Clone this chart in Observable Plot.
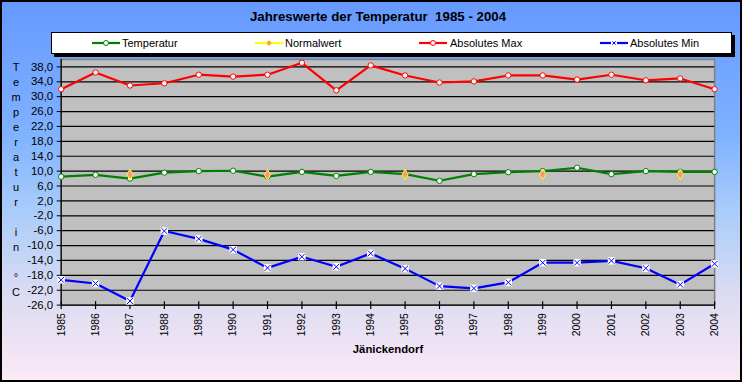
<!DOCTYPE html>
<html>
<head>
<meta charset="utf-8">
<script src="https://cdn.jsdelivr.net/npm/d3@7"></script>
<script src="https://cdn.jsdelivr.net/npm/@observablehq/plot@0.6"></script>
<style>
  html, body { margin: 0; padding: 0; }
  #chart {
    position: relative; width: 742px; height: 382px; box-sizing: border-box;
    border: 2px solid #000;
    background: linear-gradient(180deg, #6699ff 0%, #7fb2ff 35%, #a9ccfa 55%, #dcdcf2 78%, #fbe9f6 100%);
    font-family: "Liberation Sans", Arial, sans-serif; overflow: hidden;
  }
  #title { position: absolute; left: 0; width: 752px; top: 7px; text-align: center; font-weight: bold; font-size: 13.3px; color: #000; white-space: pre; }
  #legend { position: absolute; left: 49px; top: 30px; width: 679px; height: 20px; background: #fff; border: 1px solid #000; box-shadow: 3px 3px 0 #000; }
  .li { position: absolute; top: 0; height: 20px; font-size: 11px; line-height: 20px; color: #000; }
  .sw { position: absolute; top: 0; }
  #ytitle { position: absolute; left: 4px; top: 57.5px; width: 20px; text-align: center; font-size: 11px; line-height: 15px; color: #000; }
  #ytitle div { height: 15px; }
  #xtitle { position: absolute; left: 0; width: 772px; top: 341px; text-align: center; font-weight: bold; font-size: 11.3px; color: #000; }
  #plot { position: absolute; left: -2px; top: 48px; }
</style>
</head>
<body>
<div id="chart">
  <div id="title"></div>
  <div id="legend"></div>
  <div id="ytitle"></div>
  <div id="plot"></div>
  <div id="xtitle"></div>
</div>
<script>
const titleText = "Jahreswerte der Temperatur  1985 - 2004";
const xTitle = "Jänickendorf";
const yTitle = "Temperatur in °C";
const years = [1985,1986,1987,1988,1989,1990,1991,1992,1993,1994,1995,1996,1997,1998,1999,2000,2001,2002,2003,2004];
const temperatur = [8.5,9.0,8.0,9.6,10.0,10.1,8.5,9.8,8.7,9.8,9.2,7.4,9.2,9.7,10.0,10.9,9.2,10.0,9.8,9.8];
const normalwert = [null,null,9.1,null,null,null,9.0,null,null,null,9.1,null,null,null,9.1,null,null,null,9.1,null];
const absMax = [32.0,36.5,33.0,33.6,35.9,35.4,35.9,39.1,31.7,38.4,35.7,33.8,34.1,35.7,35.7,34.6,35.9,34.4,34.9,32.0];
const absMin = [-19.2,-20.2,-24.9,-6.1,-8.2,-11.1,-16.0,-13.0,-15.7,-12.1,-16.2,-20.9,-21.5,-19.9,-14.6,-14.6,-14.1,-16.1,-20.5,-14.9];
const yTicks = [-26,-22,-18,-14,-10,-6,-2,2,6,10,14,18,22,26,30,34,38];
const yMax = 40;
const seriesNames = ["Temperatur","Normalwert","Absolutes Max","Absolutes Min"];
const seriesColors = ["#008000","#ffff00","#ff0000","#0000ff"];

document.getElementById("title").textContent = titleText;
document.getElementById("xtitle").textContent = xTitle;
const yt = document.getElementById("ytitle");
for (const ch of yTitle) { const d = document.createElement("div"); d.textContent = ch === " " ? "\u00a0" : ch; yt.appendChild(d); }

// legend
const legend = document.getElementById("legend");
const swLeft = [40, 203, 367, 548];
const txtLeft = [70, 233, 398, 578];
seriesNames.forEach((name, i) => {
  const c = seriesColors[i];
  let marker = "";
  if (i === 0 || i === 2) marker = `<circle cx="14" cy="10" r="2.5" fill="#fff" stroke="${c}" stroke-width="1"/>`;
  if (i === 1) marker = `<path d="M14 7 L17 10 L14 13 L11 10 Z" fill="#ff9090" stroke="#ffff00" stroke-width="1"/>`;
  if (i === 3) marker = `<rect x="11" y="7" width="6" height="6" fill="#fff"/><path d="M12.3 8.3 L15.7 11.7 M15.7 8.3 L12.3 11.7" stroke="${c}" stroke-width="1"/>`;
  const sw = document.createElement("div");
  sw.className = "sw"; sw.style.left = swLeft[i] + "px";
  sw.innerHTML = `<svg width="28" height="20"><line x1="0" x2="28" y1="10" y2="10" stroke="${c}" stroke-width="2.2"/>${marker}</svg>`;
  legend.appendChild(sw);
  const t = document.createElement("div");
  t.className = "li"; t.style.left = txtLeft[i] + "px"; t.textContent = name;
  legend.appendChild(t);
});

const rows = years.map((y, i) => ({year: y, temperatur: temperatur[i], normalwert: normalwert[i], absMax: absMax[i], absMin: absMin[i]}));
const tickSym = { draw(ctx, size) { ctx.moveTo(0, -4); ctx.lineTo(0, 4); } };

const chart = Plot.plot({
  width: 744, height: 334,
  marginLeft: 61, marginRight: 26, marginTop: 9, marginBottom: 78,
  x: {domain: [years[0], years[years.length - 1]]},
  y: {domain: [yTicks[0], yMax]},
  style: {background: "transparent", fontFamily: "'Liberation Sans', Arial, sans-serif", fontSize: "11px", color: "#000"},
  marks: [
    Plot.frame({fill: "#c0c0c0", stroke: "#808080", strokeWidth: 1.5}),
    Plot.ruleY(yTicks, {stroke: "#000", strokeWidth: 1.2}),
    Plot.ruleX([years[0]], {stroke: "#000", strokeWidth: 1.2}),
    Plot.axisY({ticks: yTicks, tickFormat: d => d.toFixed(1).replace(".", ","), tickSize: 4, tickPadding: 4, label: null, fontSize: 11.5}),
    Plot.axisX({ticks: years, tickFormat: d => String(d), tickSize: 0, tickPadding: 8, tickRotate: -90, label: null, fontSize: 10.5}),
    Plot.dot(years, {x: d => d, y: yTicks[0], symbol: tickSym, stroke: "#000", strokeWidth: 1.2, fill: "none"}),
    Plot.line(rows, {x: "year", y: "absMax", stroke: seriesColors[2], strokeWidth: 2.2}),
    Plot.line(rows, {x: "year", y: "temperatur", stroke: seriesColors[0], strokeWidth: 2.2}),
    Plot.line(rows, {x: "year", y: "normalwert", stroke: seriesColors[1], strokeWidth: 2.2}),
    Plot.line(rows, {x: "year", y: "absMin", stroke: seriesColors[3], strokeWidth: 2.2}),
    Plot.dot(rows, {x: "year", y: "absMax", r: 2.7, fill: "#fff", stroke: seriesColors[2], strokeWidth: 1}),
    Plot.dot(rows, {x: "year", y: "temperatur", r: 2.7, fill: "#fff", stroke: seriesColors[0], strokeWidth: 1}),
    Plot.dot(rows.filter(d => d.normalwert != null), {x: "year", y: "normalwert", symbol: "diamond", r: 3.2, fill: "#ff9090", stroke: "#ffff00", strokeWidth: 1}),
    Plot.dot(rows, {x: "year", y: "absMin", symbol: "square", r: 4.2, fill: "#fff", stroke: "none"}),
    Plot.dot(rows, {x: "year", y: "absMin", symbol: "times", r: 2.8, fill: "none", stroke: seriesColors[3], strokeWidth: 1})
  ]
});
document.getElementById("plot").appendChild(chart);
</script>
</body>
</html>
